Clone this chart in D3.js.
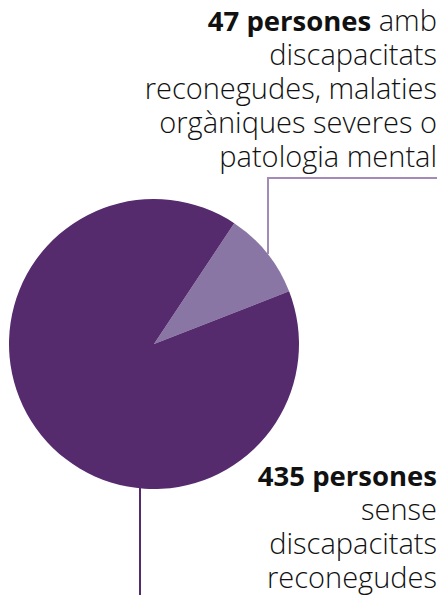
<!DOCTYPE html>
<html>
<head>
<meta charset="utf-8">
<script src="https://cdn.jsdelivr.net/npm/d3@7"></script>
<style>
  body { margin: 0; background: #fff; }
  text { font-family: "Open Sans", Lato, sans-serif; fill: #111; }
</style>
</head>
<body>
<script>
// chart values
var labels = ["amb discapacitats", "sense discapacitats"];
var values = [47, 435];
var colors = ["#8a76a4", "#552b6e"];

var topLines = [["47 persones", " amb"], ["", "discapacitats"], ["", "reconegudes, malaties"], ["", "orgàniques severes o"], ["", "patologia mental"]];
var bottomLines = [["435 persones", ""], ["", "sense"], ["", "discapacitats"], ["", "reconegudes"]];

var width = 442, height = 595;
var svg = d3.select("body").append("svg")
    .attr("width", width).attr("height", height);

var cx = 154, cy = 344, r = 145;
var startA = 33.6 * Math.PI / 180;

var pie = d3.pie().sort(null).startAngle(startA).endAngle(startA + 2 * Math.PI);
var arc = d3.arc().innerRadius(0).outerRadius(r);

var g = svg.append("g").attr("transform", "translate(" + cx + "," + cy + ")");
g.selectAll("path")
    .data(pie(values))
    .enter().append("path")
    .attr("d", arc)
    .attr("fill", function(d, i) { return colors[i]; });

// leader lines
svg.append("polyline")
    .attr("points", "268,254 268,178 437,178")
    .attr("fill", "none").attr("stroke", "#a08cb6").attr("stroke-width", 2);
svg.append("line")
    .attr("x1", 140).attr("y1", 487).attr("x2", 140).attr("y2", 595)
    .attr("stroke", "#552b6e").attr("stroke-width", 2);

function block(lines, y0, lh) {
  var t = svg.append("text").attr("text-anchor", "end");
  lines.forEach(function(l, i) {
    var ts = t.append("tspan").attr("x", 437).attr("y", y0 + i * lh);
    if (l[0]) ts.append("tspan").attr("font-weight", "bold").attr("font-size", 27.5).text(l[0]);
    if (l[1]) {
      var s = ts.append("tspan").attr("font-weight", 300).attr("font-size", 29).text(l[1]);
      if (i > 0) s.attr("x", 437);
    }
  });
}
block(topLines, 31, 34);
block(bottomLines, 486, 34);
</script>
</body>
</html>
